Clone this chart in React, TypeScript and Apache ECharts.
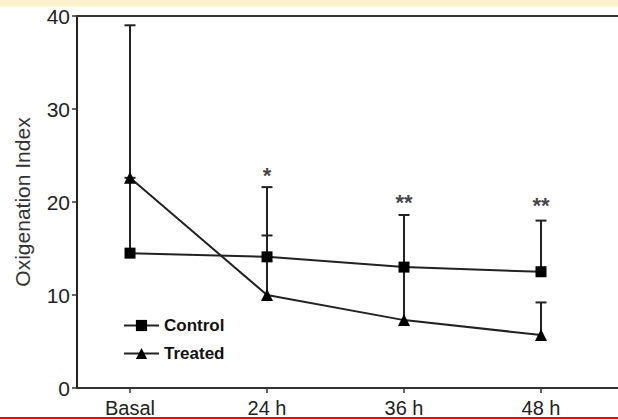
import React, { useEffect, useRef } from "react";
import * as echarts from "echarts";

const categories = ["Basal", "24 h", "36 h", "48 h"];
const xPositions = [0, 1, 2, 3];
const controlValues = [14.5, 14.1, 13.0, 12.5];
const treatedValues = [22.6, 10.0, 7.3, 5.7];
const controlErrTop: (number | null)[] = [22.6, 21.6, null, 18.0];
const treatedErrTop: (number | null)[] = [39.0, 16.4, 18.6, 9.2];
const starLabels = ["", "*", "**", "**"];
const starValues: (number | null)[] = [null, 22.9, 19.9, 19.6];
const yTicks = [0, 10, 20, 30, 40];

const FONT = "'Liberation Sans', Arial, sans-serif";
const INK = "#222";

export default function App() {
  const ref = useRef<HTMLDivElement>(null);
  useEffect(() => {
    document.body.style.margin = "0";
    if (!ref.current) return;
    const chart = echarts.init(ref.current, null, { renderer: "svg" });

    const errData: number[][] = [];
    xPositions.forEach((x, i) => {
      if (controlErrTop[i] != null) errData.push([x, controlValues[i], controlErrTop[i] as number]);
      if (treatedErrTop[i] != null) errData.push([x, treatedValues[i], treatedErrTop[i] as number]);
    });
    const starData: any[] = [];
    xPositions.forEach((x, i) => {
      if (starValues[i] != null) starData.push({ value: [x, starValues[i]], name: starLabels[i] });
    });

    const xMin = -0.387;
    const xMax = 3.562;

    chart.setOption({
      animation: false,
      backgroundColor: "#fff",
      grid: { left: 77, right: 0, top: 16, bottom: 31 },
      graphic: [
        { type: "rect", left: 0, top: 0, shape: { width: 618, height: 7 }, style: { fill: "#fdf3cc" }, z: 100 },
        { type: "rect", left: 0, top: 417, shape: { width: 618, height: 2 }, style: { fill: "#ff0000" }, z: 100 },
      ],
      legend: {
        orient: "vertical",
        left: 118,
        top: 312,
        itemWidth: 35,
        itemHeight: 14,
        itemGap: 11,
        textStyle: { fontFamily: FONT, fontSize: 17, fontWeight: "bold", color: "#111" },
        data: ["Control", "Treated"],
      },
      xAxis: [
        {
          type: "value",
          min: xMin,
          max: xMax,
          splitLine: { show: false },
          axisLine: { show: true, onZero: false, lineStyle: { color: "#333", width: 2 } },
          axisTick: { show: true, customValues: xPositions, length: 5, lineStyle: { color: "#333", width: 1.5 } },
          axisLabel: {
            customValues: xPositions,
            formatter: (v: number) => categories[Math.round(v)] ?? "",
            fontFamily: FONT,
            fontSize: 20,
            color: INK,
            margin: 10,
          },
        },
        {
          type: "value",
          position: "top",
          min: xMin,
          max: xMax,
          splitLine: { show: false },
          axisLine: { show: true, onZero: false, lineStyle: { color: "#333", width: 2 } },
          axisTick: { show: false },
          axisLabel: { show: false },
        },
      ],
      yAxis: {
        type: "value",
        min: 0,
        max: 40,
        interval: 10,
        name: "Oxigenation Index",
        nameLocation: "middle",
        nameGap: 44,
        nameTextStyle: { fontFamily: FONT, fontSize: 21, color: "#333" },
        splitLine: { show: false },
        axisLine: { show: true, onZero: false, lineStyle: { color: "#222", width: 2 } },
        axisTick: { show: true, length: 5, lineStyle: { color: "#333", width: 1.5 } },
        axisLabel: {
          fontFamily: FONT,
          fontSize: 21,
          color: INK,
          margin: 7,
          formatter: (v: number) => (yTicks.includes(v) ? String(v) : ""),
        },
      },
      series: [
        {
          type: "custom",
          name: "errors",
          z: 1,
          silent: true,
          data: errData,
          renderItem: (params: any, api: any) => {
            const x = api.value(0);
            const p0 = api.coord([x, api.value(1)]);
            const p1 = api.coord([x, api.value(2)]);
            const hw = 5.5;
            const style = { stroke: "#222", lineWidth: 2 };
            return {
              type: "group",
              children: [
                { type: "line", shape: { x1: p0[0], y1: p0[1], x2: p1[0], y2: p1[1] }, style },
                { type: "line", shape: { x1: p1[0] - hw, y1: p1[1], x2: p1[0] + hw, y2: p1[1] }, style },
              ],
            };
          },
        },
        {
          type: "line",
          name: "Control",
          z: 3,
          data: xPositions.map((x, i) => [x, controlValues[i]]),
          symbol: "rect",
          symbolSize: 11,
          lineStyle: { color: "#222", width: 2 },
          itemStyle: { color: "#000" },
        },
        {
          type: "line",
          name: "Treated",
          z: 3,
          data: xPositions.map((x, i) => [x, treatedValues[i]]),
          symbol: "triangle",
          symbolSize: 12,
          lineStyle: { color: "#222", width: 2 },
          itemStyle: { color: "#000" },
        },
        {
          type: "scatter",
          name: "stars",
          silent: true,
          symbolSize: 0,
          data: starData,
          label: {
            show: true,
            position: "inside",
            formatter: (p: any) => p.name,
            fontFamily: FONT,
            fontSize: 22,
            fontWeight: "bold",
            color: "#111",
          },
        },
      ],
    });
    return () => chart.dispose();
  }, []);
  return <div ref={ref} style={{ width: 618, height: 419 }} />;
}
